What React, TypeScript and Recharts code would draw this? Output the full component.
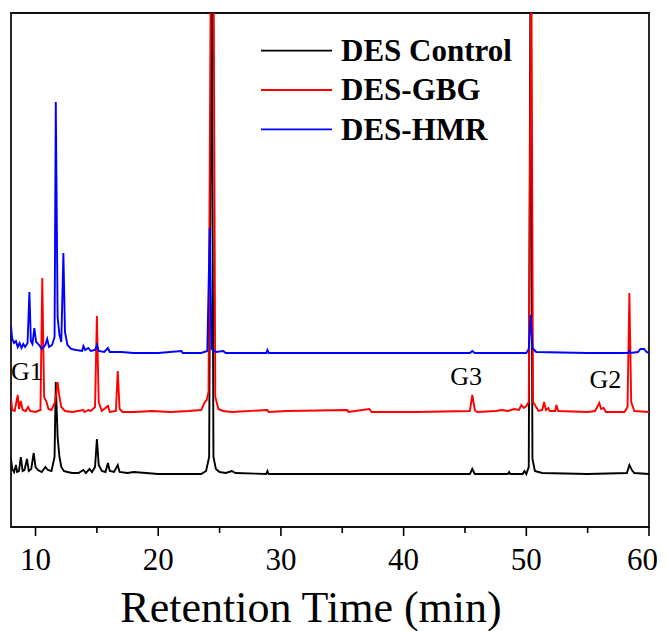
import React from 'react';
import { LineChart, Line, XAxis, YAxis, ReferenceArea, ReferenceDot, Legend } from 'recharts';

// Retention time (min), detector response (arbitrary, stacked offsets)
const desControl: [number, number][] = [
  [8.0, 68], [8.1, 58], [8.25, 55], [8.4, 62], [8.5, 55], [8.65, 56], [8.8, 70], [8.95, 56], [9.1, 57], [9.3, 68], [9.45, 56],
  [9.65, 58], [9.85, 74], [10.0, 60], [10.2, 57], [10.5, 55], [10.8, 60], [11.0, 57], [11.3, 56], [11.55, 70], [11.65, 145],
  [11.8, 90], [11.95, 70], [12.1, 60], [12.3, 56], [12.6, 55], [13.0, 54], [13.5, 54], [13.9, 57], [14.1, 54], [14.4, 58],
  [14.6, 55], [14.85, 60], [15.0, 88], [15.15, 62], [15.4, 56], [15.7, 55], [15.9, 64], [16.05, 56], [16.4, 55], [16.7, 62],
  [16.85, 55], [17.5, 54], [18.0, 55], [19, 54], [20, 53], [22, 53], [23.5, 53], [23.9, 56], [24.15, 70], [24.35, 600],
  [24.5, 70], [24.7, 58], [25.0, 55], [25.5, 54], [26.0, 56], [26.3, 54], [28.8, 53], [28.9, 56], [29.0, 53], [35, 53],
  [40, 53], [45.4, 53], [45.6, 58], [45.8, 53], [48.5, 53], [48.6, 55], [48.7, 53], [49.7, 53], [49.85, 56], [50.0, 53],
  [50.2, 60], [50.35, 600], [50.5, 68], [50.7, 56], [51.0, 55], [51.3, 54], [55, 53], [58.2, 54], [58.4, 62], [58.6, 57],
  [58.8, 54], [60, 53],
];

const desGBG: [number, number][] = [
  [8.0, 129], [8.1, 117], [8.3, 116], [8.55, 132], [8.65, 118], [8.8, 126], [8.95, 117], [9.2, 116], [9.4, 120], [9.55, 116],
  [10.0, 115], [10.4, 117], [10.55, 249], [10.7, 130], [10.9, 125], [11.05, 118], [11.3, 117], [11.6, 125], [11.8, 145],
  [11.95, 130], [12.1, 120], [12.4, 116], [13, 115], [13.9, 117], [14.0, 115], [14.3, 117], [14.5, 116], [14.85, 120],
  [15.0, 211], [15.15, 125], [15.4, 116], [15.9, 121], [16.05, 115], [16.55, 116], [16.7, 156], [16.85, 118], [17.1, 115],
  [18, 115], [19.5, 116], [21, 115], [22.5, 116], [23.5, 117], [23.8, 125], [23.95, 127], [24.1, 135], [24.3, 600],
  [24.5, 600], [24.65, 130], [24.9, 118], [25.3, 116], [26.0, 115], [28.9, 117], [29, 115], [30.5, 116], [35.4, 117],
  [35.5, 115], [37.2, 118], [37.4, 115], [41, 115], [45.4, 116], [45.6, 132], [45.8, 117], [46, 115], [47.5, 116], [48, 117],
  [48.5, 116], [49, 118], [49.4, 117], [49.6, 122], [49.8, 119], [50.0, 121], [50.2, 125], [50.4, 600], [50.55, 125],
  [50.8, 120], [51.0, 116], [51.3, 117], [51.45, 125], [51.6, 117], [51.8, 119], [51.9, 116], [52.35, 116], [52.45, 122],
  [52.6, 116], [55, 115], [55.6, 116], [55.95, 124], [56.1, 118], [56.3, 119], [56.5, 115], [58.0, 115], [58.25, 120],
  [58.4, 234], [58.55, 125], [58.8, 116], [60, 115],
];

const desHMR: [number, number][] = [
  [8.0, 201], [8.1, 188], [8.25, 184], [8.4, 186], [8.55, 180], [8.7, 184], [8.85, 179], [9.0, 183], [9.15, 180], [9.35, 184],
  [9.5, 235], [9.62, 186], [9.75, 183], [9.9, 199], [10.05, 185], [10.3, 182], [10.5, 178], [10.8, 182], [10.95, 188],
  [11.1, 180], [11.35, 182], [11.55, 190], [11.65, 425], [11.8, 210], [11.95, 192], [12.1, 185], [12.27, 274], [12.4, 195],
  [12.6, 182], [12.9, 178], [13.3, 177], [13.8, 176], [13.9, 181], [14.05, 177], [14.3, 179], [14.5, 176], [14.85, 177],
  [15.0, 182], [15.15, 176], [15.6, 175], [15.9, 179], [16.05, 175], [17, 175], [18, 174], [20, 174], [21.9, 176], [22.0, 174],
  [23.5, 174], [24.0, 176], [24.2, 299], [24.35, 178], [24.7, 175], [25.3, 176], [25.5, 174], [28.8, 174], [28.9, 177],
  [29.0, 174], [35, 174], [40, 174], [45.4, 174], [45.6, 176], [45.8, 174], [50.0, 174], [50.2, 178], [50.35, 212],
  [50.5, 179], [50.8, 175], [55, 174], [58.3, 174], [58.4, 176], [58.5, 174], [59.1, 175], [59.3, 178], [59.6, 178],
  [59.8, 175], [60, 174],
];

const seriesNames = ['DES Control', 'DES-GBG', 'DES-HMR'];
const seriesColors = ['#000000', '#ff0000', '#0000ff'];
const xTicks = [10, 15, 20, 25, 30, 35, 40, 45, 50, 55, 60];
const peakLabels: { text: string; t: number; v: number }[] = [
  { text: 'G1', t: 8.0, v: 147 },
  { text: 'G3', t: 43.8, v: 142 },
  { text: 'G2', t: 55.15, v: 139 },
];

const toRows = (arr: [number, number][]) => arr.map(([t, v]) => ({ t, v }));
const allSeries = [toRows(desControl), toRows(desGBG), toRows(desHMR)];

const FONT = '"Liberation Serif", "Times New Roman", serif';

const XTick = (props: any) => {
  const { x, y, payload } = props;
  const major = payload.value % 10 === 0;
  const last = payload.value === 60;
  return (
    <g>
      <line x1={x} x2={x} y1={y} y2={y + (major ? 9 : 6)} stroke="#000" strokeWidth={1.6} />
      {major && (
        <text x={last ? x + 9 : x} y={y + 43} textAnchor={last ? 'end' : 'middle'} fontFamily={FONT} fontSize={31} fill="#000">
          {payload.value}
        </text>
      )}
    </g>
  );
};

const LegendBox = () => (
  <svg width={658} height={150} style={{ display: 'block' }}>
    {seriesNames.map((n, i) => (
      <g key={n}>
        <line x1={253} x2={324} y1={42.7 + i * 39.3} y2={42.7 + i * 39.3} stroke={seriesColors[i]} strokeWidth={1.8} />
        <text x={333} y={52.7 + i * 39.6} fontFamily={FONT} fontWeight="bold" fontSize={31} fill="#000">
          {n}
        </text>
      </g>
    ))}
  </svg>
);

export default function App() {
  return (
    <div style={{ width: 658, height: 623 }}>
      <style>{'html{overflow:hidden} .recharts-wrapper,.recharts-surface{overflow:visible !important}'}</style>
      <LineChart width={658} height={623} margin={{ top: 5, right: 17, left: 3, bottom: 0 }}>
        <XAxis
          dataKey="t"
          type="number"
          domain={[8, 60]}
          ticks={xTicks}
          interval={0}
          tickSize={0}
          tickMargin={0}
          tickLine={false}
          axisLine={false}
          height={104}
          tick={<XTick />}
          allowDataOverflow
          label={{
            content: (p: any) => {
              const vb = p.viewBox;
              return (
                <text x={vb.x + vb.width / 2 - 19} y={vb.y + 94.7} textAnchor="middle" fontFamily={FONT} fontSize={44} fill="#000">
                  Retention Time (min)
                </text>
              );
            },
          }}
        />
        <YAxis type="number" domain={[0, 514]} hide allowDataOverflow />
        <Legend
          layout="horizontal"
          verticalAlign="middle"
          align="center"
          wrapperStyle={{ position: 'absolute', left: 0, top: 0, width: 658, height: 150, pointerEvents: 'none' }}
          content={() => <LegendBox />}
        />
        {allSeries.map((d, i) => (
          <Line
            key={seriesNames[i]}
            data={d}
            dataKey="v"
            name={seriesNames[i]}
            type="linear"
            stroke={seriesColors[i]}
            strokeWidth={1.9}
            dot={false}
            activeDot={false}
            isAnimationActive={false}
          />
        ))}
        {peakLabels.map((p) => (
          <ReferenceDot
            key={p.text}
            x={p.t}
            y={p.v}
            r={0}
            fill="none"
            stroke="none"
            label={{
              content: (lp: any) => {
                const vb = lp.viewBox;
                return (
                  <text x={vb.x} y={vb.y} fontFamily={FONT} fontSize={26} fill="#000">
                    {p.text}
                  </text>
                );
              },
            }}
          />
        ))}
        <ReferenceArea x1={8} x2={60} y1={0} y2={514} fill="none" stroke="#111" strokeWidth={1.8} fillOpacity={0} />
      </LineChart>
    </div>
  );
}
